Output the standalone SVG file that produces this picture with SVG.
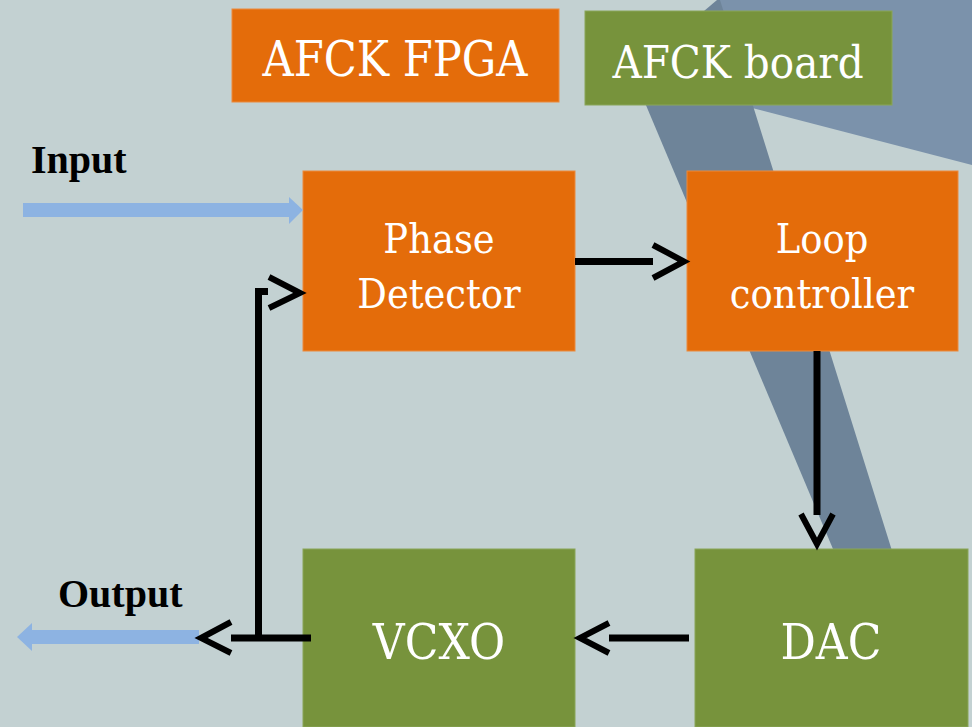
<svg xmlns="http://www.w3.org/2000/svg" width="972" height="727" viewBox="0 0 972 727">
<defs>
<style>
.orange{fill:#e46c0a;stroke:#ec8a3c;stroke-width:1}
.green{fill:#77933c;stroke:#8aa558;stroke-width:1}
.lbl{font-family:"DejaVu Serif Condensed","DejaVu Serif",serif;font-stretch:condensed;fill:#ffffff;text-anchor:middle}
.io{font-family:"Liberation Serif",serif;font-weight:bold;font-size:40px;fill:#000000}
.wire{fill:none;stroke:#000000;stroke-width:7}
.head{fill:none;stroke:#000000;stroke-width:6}
.blue{fill:#8db3e2}
</style>
</defs>
<rect x="0" y="0" width="972" height="727" fill="#c3d1d2"/>
<g id="background">
<polygon points="719,0 972,0 972,165 752,108" fill="#7b92ab"/>
<polygon points="717,0 720,0 947,727 908,727 632,72" fill="#6e8499"/>
</g>
<g id="afck-fpga">
<rect class="orange" x="232" y="9" width="327" height="93"/>
<text class="lbl" x="395" y="76" font-size="48">AFCK FPGA</text>
</g>
<g id="afck-board">
<rect class="green" x="585" y="11" width="307" height="94"/>
<text class="lbl" x="738" y="78" font-size="45">AFCK board</text>
</g>
<g id="phase-detector">
<rect class="orange" x="303" y="171" width="272" height="180"/>
<text class="lbl" x="439" y="253" font-size="41">Phase</text>
<text class="lbl" x="439" y="308" font-size="41">Detector</text>
</g>
<g id="loop-controller">
<rect class="orange" x="687" y="171" width="271" height="180"/>
<text class="lbl" x="822" y="253" font-size="41">Loop</text>
<text class="lbl" x="822" y="308" font-size="41">controller</text>
</g>
<g id="vcxo">
<rect class="green" x="303" y="549" width="272" height="178"/>
<text class="lbl" x="439" y="659" font-size="49">VCXO</text>
</g>
<g id="dac">
<rect class="green" x="695" y="549" width="273" height="178"/>
<text class="lbl" x="831" y="659" font-size="49">DAC</text>
</g>
<g id="input">
<text class="io" x="31" y="173">Input</text>
<rect class="blue" x="23" y="203" width="267" height="14"/>
<polygon class="blue" points="289,197 303,210 289,224"/>
</g>
<g id="output">
<text class="io" x="58" y="607">Output</text>
<rect class="blue" x="31" y="630" width="168" height="14"/>
<polygon class="blue" points="32,623 17,637 32,651"/>
</g>
<g id="connectors">
<line class="wire" x1="575" y1="261.5" x2="653" y2="261.5"/>
<polyline class="head" points="653,245 684,261.5 653,278"/>
<line class="wire" x1="817" y1="351" x2="817" y2="515"/>
<polyline class="head" points="801,514 817,544 833,514"/>
<line class="wire" x1="689" y1="638" x2="609" y2="638"/>
<polyline class="head" points="609,623 580,638 609,653"/>
<line class="wire" x1="311" y1="638" x2="231" y2="638"/>
<polyline class="head" points="231,622 201,638 231,653"/>
<polyline class="wire" points="258.5,638 258.5,291.5 268,291.5"/>
<polyline class="head" points="269,277 300,293 269,308"/>
</g>
</svg>
